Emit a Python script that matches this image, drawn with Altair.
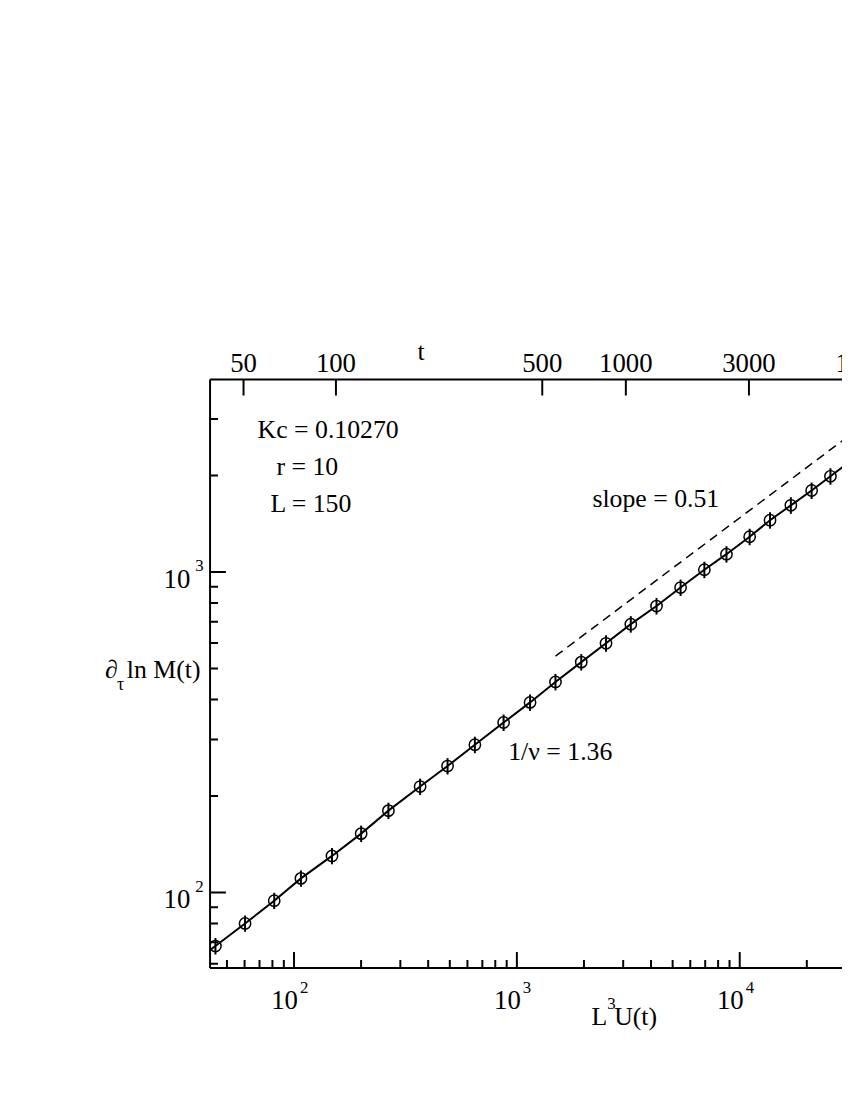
import altair as alt
import pandas as pd

# ---- data ----
# L^3 U(t) (bottom axis) and d_tau ln M(t) (left axis); first and last entries lie outside the visible window
lu3 = [32.5, 44.4, 60.3, 81.5, 107.4, 148.0, 200.1, 265.2, 368.0, 488.6, 648.0, 871.8, 1146, 1490,
       1945, 2512, 3245, 4233, 5428, 6939, 8719, 11080, 13677, 16960, 21020, 25530, 30900]
dlnM = [57.9, 68.1, 80.1, 94.3, 110.7, 130.1, 152.7, 180.1, 214.1, 248.1, 289.2, 339.2, 391.9, 454.0,
        523.4, 599.2, 687.5, 783.0, 894.4, 1016.5, 1136.6, 1288.2, 1450.7, 1614.2, 1796, 1989, 2200]
dlnM_err = [3.4, 4.0, 4.7, 5.5, 6.5, 7.6, 9.0, 10.6, 12.6, 14.6, 17.0, 20.0, 23.1, 26.8,
            30.9, 35.4, 40.6, 46.2, 52.8, 60.0, 67.1, 76.0, 85.6, 95.2, 106, 117, 130]

# dashed guide line (slope = 0.51)
guide_x = [1490, 40000]
guide_y = [546.3, 3044]

# axis ticks
x_major = [100, 1000, 10000]
x_major_exp = ["2", "3", "4"]
x_minor = [50, 60, 70, 80, 90, 200, 300, 400, 500, 600, 700, 800, 900,
           2000, 3000, 4000, 5000, 6000, 7000, 8000, 9000, 20000]
y_major = [100, 1000]
y_major_exp = ["2", "3"]
y_minor = [60, 70, 80, 90, 200, 300, 400, 500, 600, 700, 800, 900, 2000, 3000]

# top axis: t values and where they fall on the L^3 U(t) scale
t_labels = ["50", "100", "500", "1000", "3000", "10000"]
t_pos = [59.35, 154.2, 1300, 3083, 11000, 38000]

X_DOMAIN = [42, 28770]
Y_DOMAIN = [58.2, 3985]

W, H = 638, 594
FONT = "Liberation Serif"

xs = alt.Scale(type="log", domain=X_DOMAIN, nice=False)
ys = alt.Scale(type="log", domain=Y_DOMAIN, nice=False)


def X(f):
    return alt.X(f"{f}:Q", scale=xs, axis=None)


def Y(f):
    return alt.Y(f"{f}:Q", scale=ys, axis=None)


df = pd.DataFrame({"lu": lu3, "m": dlnM, "e": dlnM_err})
df["lo"] = df["m"] - df["e"]
df["hi"] = df["m"] + df["e"]

one = pd.DataFrame({"k": [0]})

line = alt.Chart(df).mark_line(color="black", strokeWidth=2, clip=True).encode(x=X("lu"), y=Y("m"))
errs = alt.Chart(df).mark_rule(color="black", strokeWidth=2, clip=True).encode(
    x=X("lu"), y=Y("lo"), y2="hi")
pts = alt.Chart(df).mark_point(shape="circle", filled=False, size=130, color="black",
                               strokeWidth=1.5, opacity=1, clip=True).encode(x=X("lu"), y=Y("m"))

guide = alt.Chart(pd.DataFrame({"gx": guide_x, "gy": guide_y})).mark_line(
    color="black", strokeWidth=1.5, strokeDash=[9, 6], clip=True).encode(x=X("gx"), y=Y("gy"))

# frame
top_b = alt.Chart(one).mark_rule(color="black", strokeWidth=2).encode(
    x=alt.value(0), x2=alt.value(W), y=alt.value(0))
bot_b = alt.Chart(one).mark_rule(color="black", strokeWidth=2).encode(
    x=alt.value(0), x2=alt.value(W), y=alt.value(H))
left_b = alt.Chart(one).mark_rule(color="black", strokeWidth=2).encode(
    x=alt.value(0), y=alt.value(0), y2=alt.value(H))

# inward ticks
bx_major = alt.Chart(pd.DataFrame({"v": x_major})).mark_rule(color="black", strokeWidth=2, clip=True).encode(
    x=X("v"), y=alt.value(H), y2=alt.value(H - 16))
bx_minor = alt.Chart(pd.DataFrame({"v": x_minor})).mark_rule(color="black", strokeWidth=2, clip=True).encode(
    x=X("v"), y=alt.value(H), y2=alt.value(H - 8))
ly_major = alt.Chart(pd.DataFrame({"v": y_major})).mark_rule(color="black", strokeWidth=2, clip=True).encode(
    y=Y("v"), x=alt.value(0), x2=alt.value(16))
ly_minor = alt.Chart(pd.DataFrame({"v": y_minor})).mark_rule(color="black", strokeWidth=2, clip=True).encode(
    y=Y("v"), x=alt.value(0), x2=alt.value(8))
tx_ticks = alt.Chart(pd.DataFrame({"v": t_pos})).mark_rule(color="black", strokeWidth=2, clip=True).encode(
    x=X("v"), y=alt.value(0), y2=alt.value(16))

# tick labels
bx_lab = alt.Chart(pd.DataFrame({"v": x_major, "e": x_major_exp})).mark_text(
    font=FONT, fontSize=27, align="right", baseline="alphabetic", dx=4, color="black").encode(
    x=X("v"), y=alt.value(H + 41), text=alt.value("10"))
bx_exp = alt.Chart(pd.DataFrame({"v": x_major, "e": x_major_exp})).mark_text(
    font=FONT, fontSize=17, align="left", baseline="alphabetic", dx=6, color="black").encode(
    x=X("v"), y=alt.value(H + 25), text="e:N")
ly_lab = alt.Chart(pd.DataFrame({"v": y_major, "e": y_major_exp})).mark_text(
    font=FONT, fontSize=27, align="right", baseline="alphabetic", dx=-20, dy=16, color="black").encode(
    y=Y("v"), x=alt.value(0), text=alt.value("10"))
ly_exp = alt.Chart(pd.DataFrame({"v": y_major, "e": y_major_exp})).mark_text(
    font=FONT, fontSize=17, align="left", baseline="alphabetic", dx=-15, dy=-1, color="black").encode(
    y=Y("v"), x=alt.value(0), text="e:N")
t_lab = alt.Chart(pd.DataFrame({"v": t_pos, "lab": t_labels})).mark_text(
    font=FONT, fontSize=27, align="center", baseline="alphabetic", color="black").encode(
    x=X("v"), y=alt.value(-8), text="lab:N")


def txt(s, x, y, size=26, align="left"):
    return alt.Chart(one).mark_text(font=FONT, fontSize=size, align=align, baseline="alphabetic",
                                    color="black").encode(x=alt.value(x), y=alt.value(y), text=alt.value(s))


texts = [
    txt("t", 213, -20, align="center"),
    txt("L", 385, 652),
    txt("3", 401, 636, size=17),
    txt("U(t)", 408, 652),
    txt("\u2202", -106, 301),
    txt("\u03c4", -94, 313, size=18),
    txt("ln M(t)", -84, 301),
    txt("Kc = 0.10270", 48, 59.5),
    txt("r = 10", 67, 96),
    txt("L = 150", 61, 134),
    txt("slope = 0.51", 386, 129),
    txt("1/\u03bd = 1.36", 301, 384),
]

chart = alt.layer(
    guide, line, errs, pts,
    top_b, bot_b, left_b,
    bx_major, bx_minor, ly_major, ly_minor, tx_ticks,
    bx_lab, bx_exp, ly_lab, ly_exp, t_lab,
    *texts
).properties(
    width=W, height=H,
    autosize=alt.AutoSizeParams(type="none"),
    padding={"left": 204, "top": 370, "right": 0, "bottom": 100},
    background="white",
).configure_view(stroke=None)

chart.save("out.html", embed_options={"renderer": "svg", "actions": False})
